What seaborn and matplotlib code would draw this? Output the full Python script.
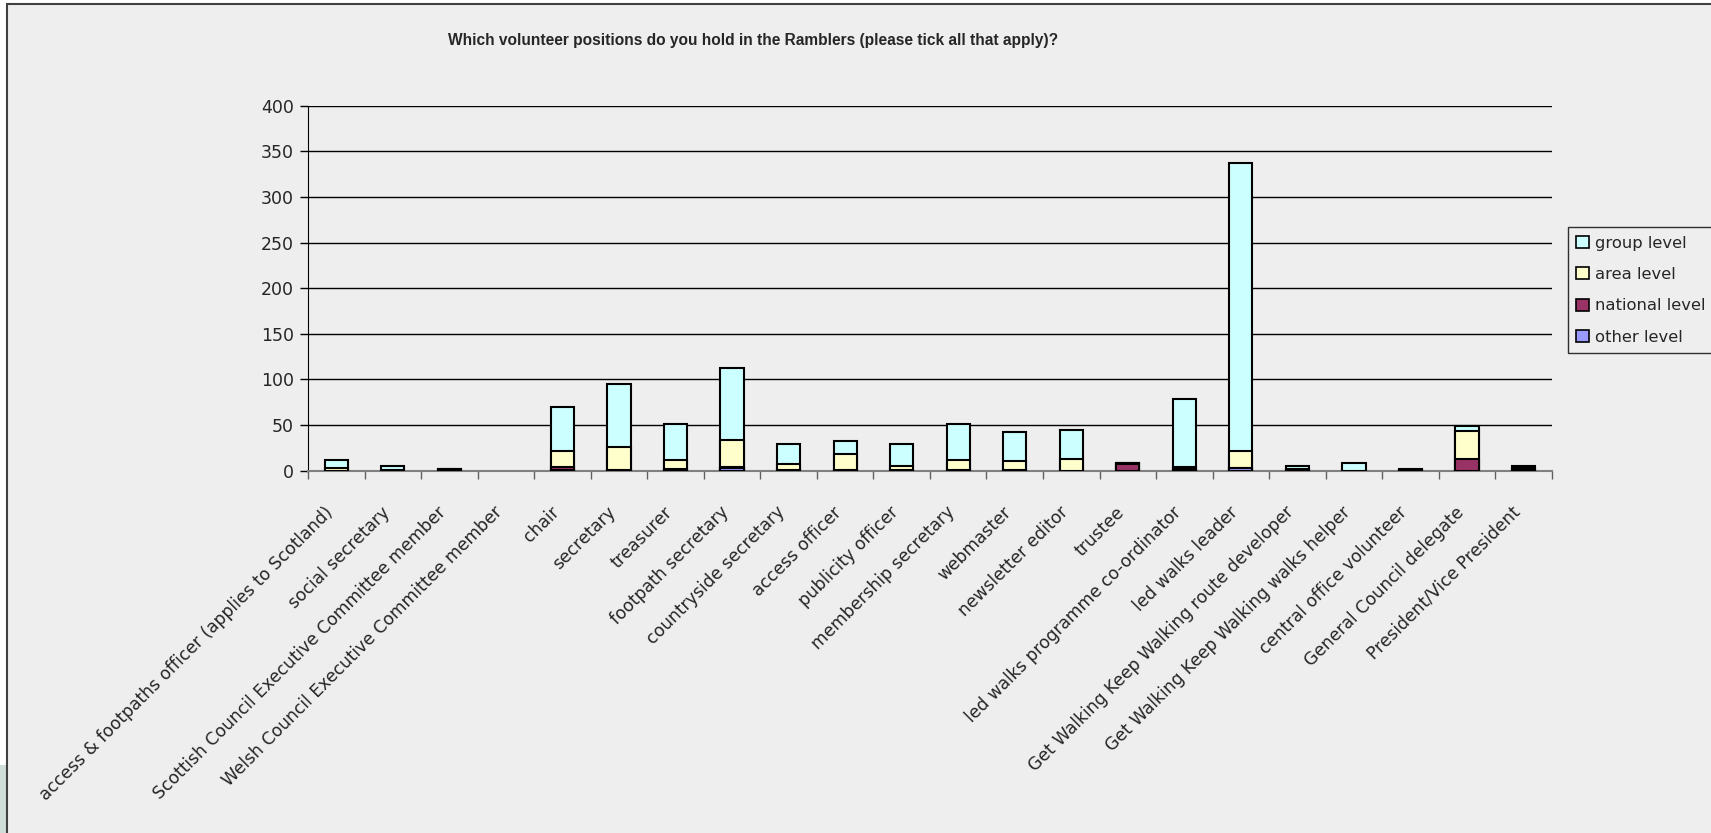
import numpy as np
import pandas as pd
import matplotlib
matplotlib.use("Agg")
import matplotlib.pyplot as plt
import seaborn as sns
from matplotlib.patches import Rectangle, Patch
from matplotlib.transforms import ScaledTranslation

# Data
positions = [
    "access & footpaths officer (applies to Scotland)", "social secretary",
    "Scottish Council Executive Committee member", "Welsh Council Executive Committee member",
    "chair", "secretary", "treasurer", "footpath secretary", "countryside secretary",
    "access officer", "publicity officer", "membership secretary", "webmaster",
    "newsletter editor", "trustee", "led walks programme co-ordinator", "led walks leader",
    "Get Walking Keep Walking route developer", "Get Walking Keep Walking walks helper",
    "central office volunteer", "General Council delegate", "President/Vice President",
]
group_level = [9, 4, 0, 0, 48, 69, 39, 78, 22, 15, 24, 39, 31, 32, 0, 74, 315, 3, 8, 1, 5, 2]
area_level = [3, 1, 1, 0, 18, 25, 10, 30, 6, 17, 4, 11, 10, 13, 1, 2, 19, 1, 0, 0, 31, 2]
national_level = [0, 0, 1, 0, 3, 1, 2, 1, 1, 1, 1, 1, 1, 0, 7, 2, 0, 1, 0, 1, 13, 1]
other_level = [0, 0, 0, 0, 1, 0, 0, 3, 0, 0, 0, 0, 0, 0, 0, 0, 3, 0, 0, 0, 0, 0]

series = ["group level", "area level", "national level", "other level"]
colors = {"group level": "#CCFFFF", "area level": "#FFFFCC",
          "national level": "#993366", "other level": "#9999FF"}

df = pd.DataFrame({"position": positions, "group level": group_level,
                   "area level": area_level, "national level": national_level,
                   "other level": other_level})

# cumulative heights, drawn from the top segment down (empty stacks left out)
df["c_other"] = df["other level"]
df["c_national"] = df["c_other"] + df["national level"]
df["c_area"] = df["c_national"] + df["area level"]
df["c_group"] = df["c_area"] + df["group level"]
for c in ["c_other", "c_national", "c_area", "c_group"]:
    df[c] = df[c].replace(0, np.nan)

bg = "#EEEEEE"
sns.set_style("white")
plt.rcParams["font.family"] = ["DejaVu Sans"]

fig = plt.figure(figsize=(17.11, 8.33), dpi=100, facecolor=bg)
ax = fig.add_axes([0.180, 0.435, 0.727, 0.438])
ax.set_facecolor(bg)

for col, name in [("c_group", "group level"), ("c_area", "area level"),
                  ("c_national", "national level"), ("c_other", "other level")]:
    sns.barplot(data=df, x="position", y=col, color=colors[name], saturation=1,
                width=0.41, edgecolor="black", linewidth=1.5, ax=ax, zorder=3)

ax.set_ylim(0, 400)
ax.set_xlim(-0.5, len(positions) - 0.5)
ax.set_yticks(np.arange(0, 401, 50))
ax.yaxis.grid(True, color="black", linewidth=1)
ax.set_axisbelow(True)
ax.set_xlabel("")
ax.set_ylabel("")

for s in ["top", "right"]:
    ax.spines[s].set_visible(False)
ax.spines["left"].set_color("black")
ax.spines["bottom"].set_color("#808080")
ax.spines["bottom"].set_linewidth(1.5)

ax.tick_params(axis="y", which="major", length=6, width=1, color="black",
               labelsize=12.5, pad=4, left=True)
ax.set_xticks(np.arange(len(positions)))
ax.set_xticklabels(positions, rotation=45, ha="right", va="center",
                   rotation_mode="anchor", fontsize=12.3)
ax.tick_params(axis="x", which="major", length=0, pad=28)
shift = ScaledTranslation(-6 / 100, 0, fig.dpi_scale_trans)
for lab in ax.get_xticklabels():
    lab.set_transform(lab.get_transform() + shift)
ax.set_xticks(np.arange(-0.5, len(positions)), minor=True)
ax.tick_params(axis="x", which="minor", length=6, width=1, color="#606060", bottom=True)

fig.text(0.44, 0.951, "Which volunteer positions do you hold in the Ramblers (please tick all that apply)?",
         ha="center", va="center", fontsize=11.2, fontweight="bold",
         family=["Liberation Sans", "DejaVu Sans"])

handles = [Patch(facecolor=colors[s], edgecolor="black", linewidth=1.2, label=s) for s in series]
leg = fig.legend(handles=handles, loc="upper left", bbox_to_anchor=(0.9165, 0.727),
                 frameon=True, fancybox=False, fontsize=11.8, handlelength=0.75,
                 handleheight=0.75, handletextpad=0.4, labelspacing=1.0,
                 borderpad=0.5, borderaxespad=0)
leg.get_frame().set_edgecolor("black")
leg.get_frame().set_facecolor(bg)
leg.get_frame().set_linewidth(1)

# strip left of the chart frame (white, grey-green at the bottom)
fig.patches.append(Rectangle((0, 0), 7 / 1711, 1, transform=fig.transFigure,
                             facecolor="white", edgecolor="none"))
fig.patches.append(Rectangle((0, 0), 7 / 1711, 68 / 833, transform=fig.transFigure,
                             facecolor="#D0DCD8", edgecolor="none"))
fig.patches.append(Rectangle((0, 1 - 4 / 833), 1, 4 / 833, transform=fig.transFigure,
                             facecolor="white", edgecolor="none"))
# outer chart border
fig.patches.append(Rectangle((7 / 1711, -0.1), 1.2, 1.1 - 4 / 833, transform=fig.transFigure,
                             fill=False, edgecolor="#404040", linewidth=1.5))

fig.savefig("out.png", dpi=100, facecolor=bg)
